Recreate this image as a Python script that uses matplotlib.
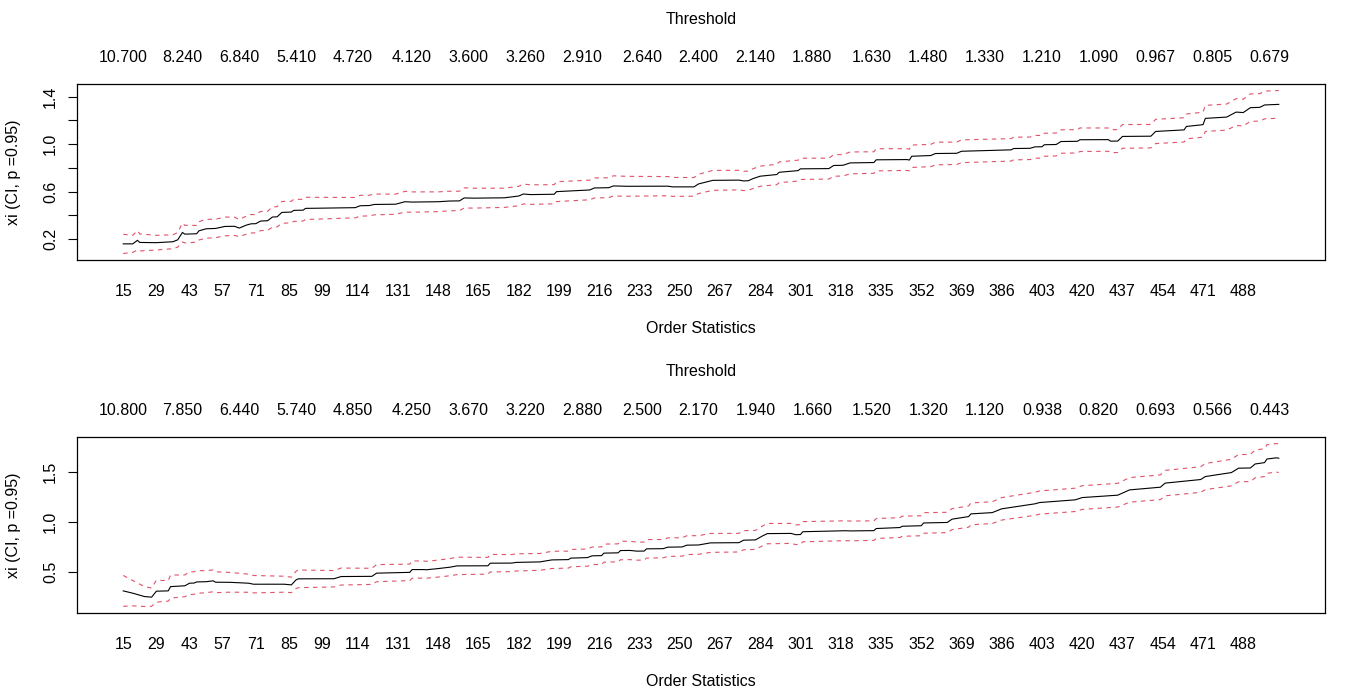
import matplotlib
matplotlib.use("Agg")
import matplotlib.pyplot as plt
import numpy as np

plt.rcParams['font.family'] = ['Liberation Sans', 'DejaVu Sans']
FS = 11.5

# ---------------- data ----------------
# Panel 1: Hill estimate of xi versus order statistic k
p1_k = [15, 19, 20, 21, 22, 29, 36, 38, 40, 41, 46, 47, 50, 54, 58, 62, 64, 67, 69, 71,
        73, 76, 78, 80, 82, 86, 87, 91, 92, 96, 113, 115, 119, 121, 130, 134, 137, 148,
        153, 157, 159, 163, 176, 182, 184, 187, 197, 198, 212, 214, 220, 222, 228, 245,
        247, 256, 258, 264, 275, 277, 279, 281, 284, 291, 292, 300, 301, 313, 315, 319,
        322, 332, 333, 346, 347, 348, 356, 358, 367, 369, 390, 391, 398, 400, 403, 404,
        409, 411, 418, 419, 431, 432, 435, 437, 449, 451, 463, 464, 471, 472, 481, 485,
        488, 491, 495, 497, 503]
p1_xi = [0.160, 0.160, 0.175, 0.190, 0.172, 0.170, 0.178, 0.194, 0.256, 0.242, 0.245,
         0.270, 0.287, 0.290, 0.307, 0.308, 0.293, 0.318, 0.329, 0.330, 0.352, 0.355,
         0.386, 0.388, 0.425, 0.428, 0.442, 0.444, 0.459, 0.460, 0.465, 0.481, 0.483,
         0.492, 0.494, 0.515, 0.512, 0.515, 0.521, 0.522, 0.547, 0.545, 0.548, 0.563,
         0.580, 0.575, 0.578, 0.600, 0.614, 0.631, 0.633, 0.648, 0.645, 0.646, 0.640,
         0.640, 0.665, 0.695, 0.697, 0.690, 0.692, 0.710, 0.730, 0.744, 0.763, 0.777,
         0.792, 0.794, 0.820, 0.822, 0.842, 0.845, 0.868, 0.870, 0.866, 0.898, 0.904,
         0.921, 0.923, 0.940, 0.952, 0.963, 0.965, 0.977, 0.978, 0.995, 0.997, 1.022,
         1.024, 1.037, 1.038, 1.025, 1.026, 1.065, 1.067, 1.107, 1.120, 1.149, 1.164,
         1.217, 1.228, 1.270, 1.266, 1.307, 1.310, 1.330, 1.335]

# Panel 2
p2_k = [15, 19, 24, 27, 29, 34, 35, 41, 43, 45, 46, 50, 53, 54, 60, 68, 70, 83, 86, 88,
        89, 104, 107, 120, 122, 136, 137, 142, 143, 148, 153, 156, 169, 170, 179, 181,
        191, 196, 203, 204, 211, 213, 217, 218, 224, 225, 229, 232, 235, 236, 243, 245,
        251, 253, 258, 263, 275, 277, 282, 285, 287, 297, 299, 301, 302, 320, 322, 332,
        333, 343, 344, 352, 353, 363, 365, 372, 373, 382, 386, 400, 402, 417, 420, 435,
        440, 453, 455, 470, 472, 483, 486, 491, 493, 497, 498, 502, 503]
p2_xi = [0.306, 0.283, 0.249, 0.243, 0.303, 0.306, 0.349, 0.357, 0.383, 0.385, 0.396,
         0.398, 0.407, 0.393, 0.392, 0.383, 0.373, 0.373, 0.366, 0.417, 0.427, 0.428,
         0.450, 0.452, 0.484, 0.492, 0.520, 0.520, 0.518, 0.530, 0.544, 0.557, 0.558,
         0.584, 0.585, 0.592, 0.597, 0.617, 0.620, 0.635, 0.640, 0.658, 0.660, 0.685,
         0.688, 0.711, 0.712, 0.705, 0.706, 0.728, 0.730, 0.745, 0.747, 0.765, 0.767,
         0.788, 0.790, 0.815, 0.818, 0.858, 0.881, 0.883, 0.870, 0.872, 0.900, 0.910,
         0.908, 0.911, 0.932, 0.942, 0.955, 0.960, 0.988, 0.993, 1.026, 1.052, 1.079,
         1.092, 1.130, 1.180, 1.193, 1.220, 1.243, 1.267, 1.320, 1.347, 1.388, 1.424,
         1.454, 1.494, 1.538, 1.540, 1.580, 1.594, 1.630, 1.642, 1.638]

ci_level = 0.95
z_ci = 1.959964  # normal quantile for the 95% interval

# Order-statistic labels shown on the bottom axis
bottom_labels = [15, 29, 43, 57, 71, 85, 99, 114, 131, 148, 165, 182, 199, 216, 233,
                 250, 267, 284, 301, 318, 335, 352, 369, 386, 403, 420, 437, 454, 471, 488]

# Threshold labels on the top axis (at these order statistics)
top_k = [15, 40, 64, 88, 112, 137, 161, 185, 209, 234, 258, 282, 306, 331, 355, 379,
         403, 427, 451, 475, 499]
p1_thresh = ["10.700", "8.240", "6.840", "5.410", "4.720", "4.120", "3.600", "3.260",
             "2.910", "2.640", "2.400", "2.140", "1.880", "1.630", "1.480", "1.330",
             "1.210", "1.090", "0.967", "0.805", "0.679"]
p2_thresh = ["10.800", "7.850", "6.440", "5.740", "4.850", "4.250", "3.670", "3.220",
             "2.880", "2.500", "2.170", "1.940", "1.660", "1.520", "1.320", "1.120",
             "0.938", "0.820", "0.693", "0.566", "0.443"]

p1_yticks = [0.2, 0.4, 0.6, 0.8, 1.0, 1.2, 1.4]
p1_yticklabels = ["0.2", "", "0.6", "", "1.0", "", "1.4"]
p2_yticks = [0.5, 1.0, 1.5]
p2_yticklabels = ["0.5", "1.0", "1.5"]

# ---------------- figure ----------------
W, H = 1349, 696
fig = plt.figure(figsize=(W / 100, H / 100), dpi=100)
RED = "#DF536B"

def fx(px):
    return px / W

def fy(py):
    return 1 - py / H

panels = [
    (84, 260, p1_k, p1_xi, p1_thresh, p1_yticks, p1_yticklabels),
    (437, 613, p2_k, p2_xi, p2_thresh, p2_yticks, p2_yticklabels),
]

for top, bot, ks, xis, thr, yt, ytl in panels:
    ax = fig.add_axes([fx(77), fy(bot), fx(1325) - fx(77), (bot - top) / H])
    k = np.array(ks, dtype=float)
    xi = np.array(xis)
    se = xi / np.sqrt(k)
    upper = xi + z_ci * se
    lower = xi - z_ci * se
    ax.plot(k, xi, color="black", lw=0.8)
    ax.plot(k, upper, color=RED, lw=0.8, linestyle=(0, (4, 4)))
    ax.plot(k, lower, color=RED, lw=0.8, linestyle=(0, (4, 4)))
    ax.margins(x=0.04, y=0.04)
    for s in ax.spines.values():
        s.set_linewidth(0.9)
    ax.set_xticks(bottom_labels)
    ax.set_xticklabels([str(v) for v in bottom_labels], fontsize=FS)
    ax.tick_params(axis="x", length=0, pad=17)
    ax.set_yticks(yt)
    ax.set_yticklabels(ytl, fontsize=FS, rotation=90, va="center")
    ax.tick_params(axis="y", length=6.5, width=0.8, pad=7)
    sec = ax.secondary_xaxis("top")
    sec.set_xticks(top_k)
    sec.set_xticklabels(thr, fontsize=FS)
    sec.tick_params(axis="x", length=0, pad=13.5)
    sec.spines["top"].set_visible(False)
    fig.text(fx(701), fy(top - 65), "Threshold", fontsize=FS, ha="center", va="center")
    fig.text(fx(701), fy(bot + 69), "Order Statistics", fontsize=FS, ha="center", va="center")
    fig.text(fx(14), fy((top + bot) / 2), "xi (CI, p =%s)" % ci_level, fontsize=FS,
             rotation=90, ha="center", va="center")

fig.savefig("out.png", dpi=100)
